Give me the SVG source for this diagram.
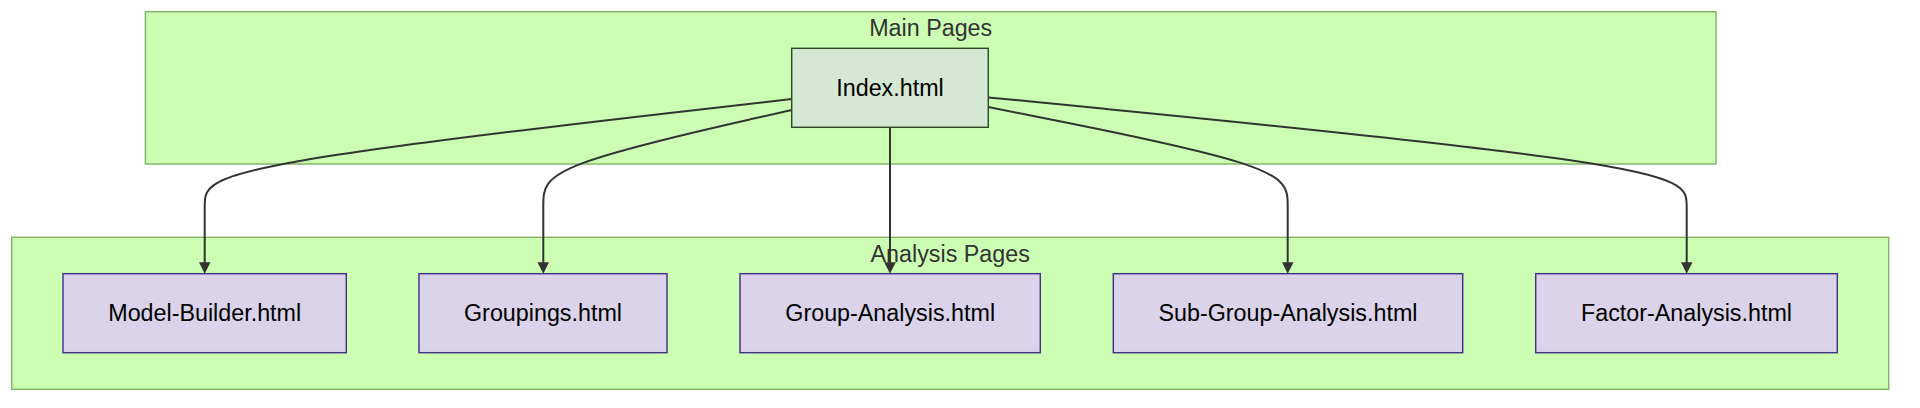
<svg xmlns="http://www.w3.org/2000/svg" width="1920" height="408" viewBox="0 0 1920 408">
<defs>
<style>
.cluster rect{fill:#ccffb3;stroke:#82b366;stroke-width:1.45}
.cluster text{font-family:"Liberation Sans",Arial,sans-serif;font-size:23.3px;fill:#333;text-anchor:middle}
.main rect{fill:#d5e8d4;stroke:#2e4b27;stroke-width:1.45}
.page rect{fill:#dad3ea;stroke:#43318a;stroke-width:1.45}
.node text{font-family:"Liberation Sans",Arial,sans-serif;font-size:23.3px;fill:#000;text-anchor:middle}
.edge{fill:none;stroke:#333;stroke-width:2}
</style>
<marker id="arrow" viewBox="0 0 10 10" refX="6.5" refY="5" markerUnits="userSpaceOnUse" markerWidth="11.6" markerHeight="11.6" orient="auto">
<path d="M0,0 L10,5 L0,10 z" fill="#333"/>
</marker>
</defs>
<rect width="1920" height="408" fill="#fff"/>
<g id="cluster-main" class="cluster">
<rect x="145.4" y="11.7" width="1570.6" height="152.3"/>
<text x="930.7" y="36">Main Pages</text>
</g>
<g id="cluster-analysis" class="cluster">
<rect x="11.7" y="237.3" width="1877" height="152"/>
<text x="950.2" y="261.7">Analysis Pages</text>
</g>
<g id="connectors">
<path class="edge" marker-end="url(#arrow)" d="M791.7,99 L693.87,110.17 C596.03,121.33 400.37,143.67 302.53,160.5 C204.7,177.33 204.7,188.67 204.7,206.62 L204.7,269.7"/>
<path class="edge" marker-end="url(#arrow)" d="M791.7,110 L750.3,119.33 C708.9,128.67 626.1,147.33 584.7,162.33 C543.3,177.33 543.3,188.67 543.3,206.62 L543.3,269.7"/>
<path class="edge" marker-end="url(#arrow)" d="M890,127.3 L890,269.7"/>
<path class="edge" marker-end="url(#arrow)" d="M988.3,107.1 L1038.2,116.92 C1088.1,126.73 1187.9,146.37 1237.8,161.85 C1287.7,177.33 1287.7,188.67 1287.7,206.62 L1287.7,269.7"/>
<path class="edge" marker-end="url(#arrow)" d="M988.3,97.4 L1104.7,108.83 C1221.1,120.27 1453.9,143.13 1570.3,160.23 C1686.7,177.33 1686.7,188.67 1686.7,206.62 L1686.7,269.7"/>
</g>
<g id="node-index" class="node main">
<rect x="791.7" y="48.3" width="196.6" height="79"/>
<text x="890" y="95.6">Index.html</text>
</g>
<g id="node-model-builder" class="node page">
<rect x="63" y="273.7" width="283.3" height="79"/>
<text x="204.7" y="320.8">Model-Builder.html</text>
</g>
<g id="node-groupings" class="node page">
<rect x="419" y="273.7" width="248" height="79"/>
<text x="543" y="320.8">Groupings.html</text>
</g>
<g id="node-group-analysis" class="node page">
<rect x="740" y="273.7" width="300.3" height="79"/>
<text x="890.2" y="320.8">Group-Analysis.html</text>
</g>
<g id="node-sub-group-analysis" class="node page">
<rect x="1113.3" y="273.7" width="349.4" height="79"/>
<text x="1288" y="320.8">Sub-Group-Analysis.html</text>
</g>
<g id="node-factor-analysis" class="node page">
<rect x="1535.7" y="273.7" width="301.6" height="79"/>
<text x="1686.5" y="320.8">Factor-Analysis.html</text>
</g>
</svg>
